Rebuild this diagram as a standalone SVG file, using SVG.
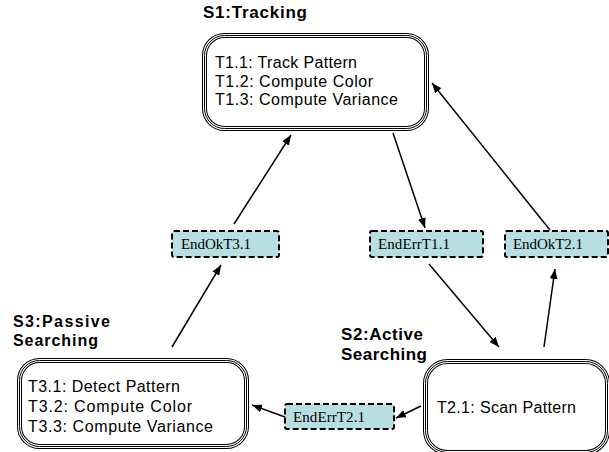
<svg xmlns="http://www.w3.org/2000/svg" width="609" height="452" viewBox="0 0 609 452">
<style>
.b1{fill:#fff;stroke:#000;stroke-width:5}
.b2{fill:none;stroke:#fff;stroke-width:3}
.b3{fill:none;stroke:#000;stroke-width:1}
.t{font-family:"Liberation Sans",Arial,sans-serif;font-size:16px;fill:#000}
.h{font-family:"Liberation Sans",Arial,sans-serif;font-size:17px;font-weight:bold;fill:#000}
.lb{fill:#b7dee1;stroke:#000;stroke-width:2;stroke-dasharray:6 3}
.lt{font-family:"Liberation Serif","Times New Roman",serif;font-size:15px;fill:#000}
.c{stroke:#000;stroke-width:1.5;fill:none;marker-end:url(#ah)}
</style>
<defs>
<marker id="ah" markerUnits="userSpaceOnUse" markerWidth="10" markerHeight="8" refX="10" refY="4" orient="auto">
<path d="M0,0 L10,4 L0,8 z" fill="#000"/>
</marker>
</defs>
<rect width="609" height="452" fill="#fff"/>

<g id="S1">
<text class="h" x="203" y="18" textLength="104" lengthAdjust="spacing">S1:Tracking</text>
<rect class="b1" x="204.5" y="35.5" width="222" height="93" rx="20"/>
<rect class="b2" x="204.5" y="35.5" width="222" height="93" rx="20"/>
<rect class="b3" x="204.5" y="35.5" width="222" height="93" rx="20"/>
<text class="t" x="215" y="68" textLength="142" lengthAdjust="spacing">T1.1: Track Pattern</text>
<text class="t" x="215" y="87" textLength="158" lengthAdjust="spacing">T1.2: Compute Color</text>
<text class="t" x="215" y="105" textLength="183" lengthAdjust="spacing">T1.3: Compute Variance</text>
</g>

<g id="S3">
<text class="h" x="13" y="327" font-size="16" style="font-size:16px" textLength="97" lengthAdjust="spacing">S3:Passive</text>
<text class="h" x="13" y="346" style="font-size:16px" textLength="85" lengthAdjust="spacing">Searching</text>
<rect class="b1" x="19.5" y="360.5" width="227" height="86" rx="20"/>
<rect class="b2" x="19.5" y="360.5" width="227" height="86" rx="20"/>
<rect class="b3" x="19.5" y="360.5" width="227" height="86" rx="20"/>
<text class="t" x="28" y="392" textLength="152" lengthAdjust="spacing">T3.1: Detect Pattern</text>
<text class="t" x="28" y="412" textLength="164" lengthAdjust="spacing">T3.2: Compute Color</text>
<text class="t" x="28" y="432" textLength="185" lengthAdjust="spacing">T3.3: Compute Variance</text>
</g>

<g id="S2">
<text class="h" x="341" y="340" textLength="82" lengthAdjust="spacing">S2:Active</text>
<text class="h" x="341" y="360" textLength="86" lengthAdjust="spacing">Searching</text>
<rect class="b1" x="425.5" y="361.5" width="182" height="91" rx="22"/>
<rect class="b2" x="425.5" y="361.5" width="182" height="91" rx="22"/>
<rect class="b3" x="425.5" y="361.5" width="182" height="91" rx="22"/>
<text class="t" x="437" y="413" textLength="139" lengthAdjust="spacing">T2.1: Scan Pattern</text>
</g>

<g id="EndOkT3.1">
<rect class="lb" x="172" y="231" width="107" height="26" rx="2"/>
<text class="lt" x="181" y="249" textLength="70" lengthAdjust="spacing">EndOkT3.1</text>
</g>
<g id="EndErrT1.1">
<rect class="lb" x="370" y="231" width="113" height="26" rx="2"/>
<text class="lt" x="378" y="249" textLength="72" lengthAdjust="spacing">EndErrT1.1</text>
</g>
<g id="EndOkT2.1">
<rect class="lb" x="505" y="231" width="103" height="26" rx="2"/>
<text class="lt" x="513" y="249" textLength="70" lengthAdjust="spacing">EndOkT2.1</text>
</g>
<g id="EndErrT2.1">
<rect class="lb" x="285" y="404" width="109" height="25" rx="2"/>
<text class="lt" x="293" y="422" textLength="72" lengthAdjust="spacing">EndErrT2.1</text>
</g>

<g id="connectors">
<line class="c" x1="172" y1="347" x2="221" y2="265"/>
<line class="c" x1="234" y1="224" x2="291" y2="135"/>
<line class="c" x1="393" y1="133" x2="425" y2="228"/>
<line class="c" x1="429" y1="264" x2="499" y2="347"/>
<line class="c" x1="544" y1="347" x2="555" y2="269"/>
<line class="c" x1="550" y1="230" x2="432" y2="83"/>
<line class="c" x1="421" y1="406" x2="396" y2="418"/>
<line class="c" x1="285" y1="417" x2="252" y2="405"/>
</g>
</svg>
